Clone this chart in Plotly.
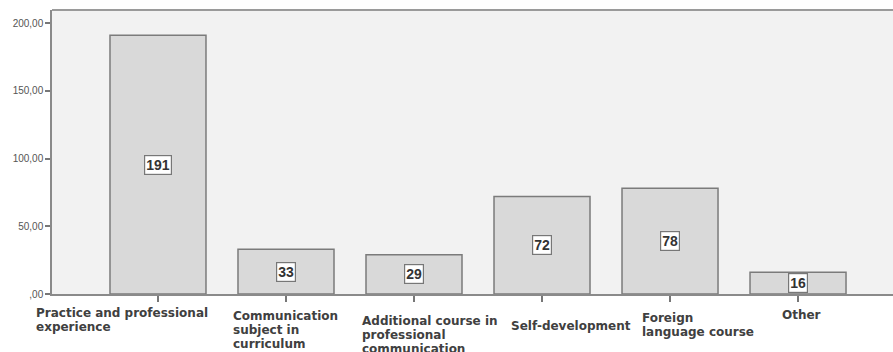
import plotly.graph_objects as go

categories = [
    "Practice and professional<br>experience",
    "Communication<br>subject in<br>curriculum",
    "Additional course in<br>professional<br>communication",
    "Self-development",
    "Foreign<br>language course",
    "Other",
]
counts = [191, 33, 29, 72, 78, 16]
y_ticks = [0, 50, 100, 150, 200]
y_tick_text = [",00", "50,00", "100,00", "150,00", "200,00"]

# left offset from the tick and drop below the axis of each label's first line (pixels)
label_dx = [-124, -55, -54, -33, -30, -18]
label_drop = [19, 22, 27, 32, 24, 21]
line_step = 14

idx = list(range(len(categories)))

fig = go.Figure()
fig.add_trace(go.Bar(
    x=idx, y=counts, width=0.75,
    marker=dict(color="#d9d9d9", line=dict(color="#7b7b7b", width=1.5)),
    hoverinfo="skip",
))

# value boxes in the middle of each bar
for i, v in zip(idx, counts):
    fig.add_annotation(
        x=i, y=v / 2, xref="x", yref="y", text=f"<b>{v}</b>", showarrow=False,
        font=dict(family="Arial", size=14, color="#333333"),
        bgcolor="white", bordercolor="#777777", borderwidth=1.2, borderpad=1,
    )

# category labels under the axis, one annotation per wrapped line
for i, (t, dx, drop) in enumerate(zip(categories, label_dx, label_drop)):
    for k, line in enumerate(t.split("<br>")):
        fig.add_annotation(
            x=i, y=0, xref="x", yref="paper", text=f"<b>{line}</b>", showarrow=False,
            xanchor="left", yanchor="middle", align="left",
            xshift=dx, yshift=-(drop + k * line_step),
            font=dict(family="DejaVu Sans", size=12, color="#404040"),
        )

fig.add_shape(type="line", xref="paper", yref="paper", x0=0, x1=1, y0=1, y1=1,
              line=dict(color="#9a9a9a", width=2))

fig.update_layout(
    width=893, height=352,
    margin=dict(l=52, r=0, t=10, b=58),
    plot_bgcolor="#f2f2f2", paper_bgcolor="white",
    showlegend=False,
    xaxis=dict(range=[-0.828, 5.742], tickmode="array", tickvals=idx, ticktext=[""] * 6,
               ticks="outside", ticklen=6, tickcolor="#777777", tickwidth=1.5,
               showline=True, linecolor="#8a8a8a", linewidth=1.5,
               showgrid=False, zeroline=False, fixedrange=True),
    yaxis=dict(range=[0, 209.6], tickmode="array", tickvals=y_ticks, ticktext=y_tick_text,
               ticks="outside", ticklen=5, tickcolor="#777777", tickwidth=1.5,
               tickfont=dict(family="Arial", size=10, color="#555555"),
               showline=True, linecolor="#8a8a8a", linewidth=1.5,
               showgrid=False, zeroline=False, fixedrange=True),
)

fig.write_html("out.html")
